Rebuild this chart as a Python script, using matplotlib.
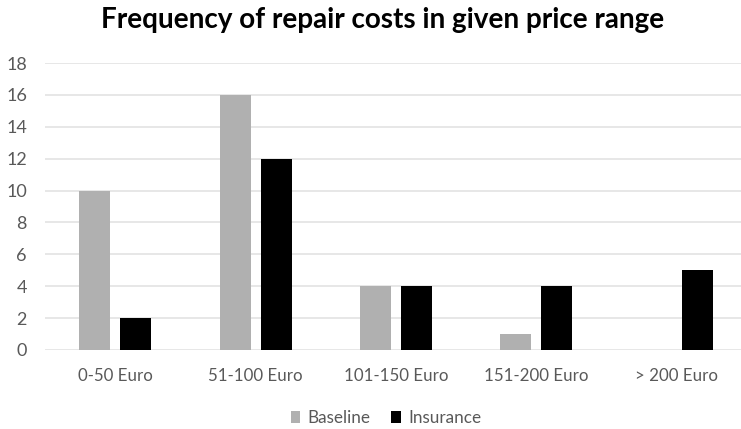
import matplotlib
matplotlib.use("Agg")
import matplotlib.pyplot as plt
import numpy as np

categories = ["0-50 Euro", "51-100 Euro", "101-150 Euro", "151-200 Euro", "> 200 Euro"]
baseline = [10, 16, 4, 1, 0]
insurance = [2, 12, 4, 4, 5]
yticks = [0, 2, 4, 6, 8, 10, 12, 14, 16, 18]

plt.rcParams['font.family'] = ['Lato', 'DejaVu Sans']

W, H = 741, 429
fig = plt.figure(figsize=(W / 100, H / 100), dpi=100)
left = 45 / W
bottom = 1 - 350 / H
top = 1 - 63 / H
ax = fig.add_axes([left, bottom, 1 - left, top - bottom])

x = np.arange(len(categories))
bw = 0.22
off = 0.146
ax.bar(x - off, baseline, bw, color="#b0b0b0", label="Baseline", zorder=3)
ax.bar(x + off, insurance, bw, color="#000000", label="Insurance", zorder=3)

ax.set_ylim(0, 18)
ax.set_xlim(-0.5, 4.5 - 6 / 140.5)
ax.set_yticks(yticks)
ax.set_xticks(x)
ax.set_xticklabels(categories)
ax.grid(axis="y", color="#e3e3e3", linewidth=1.2, zorder=0)
for s in ax.spines.values():
    s.set_visible(False)
ax.tick_params(axis="x", length=0, colors="#595959", labelsize=12.2, pad=13)
ax.tick_params(axis="y", length=0, colors="#595959", labelsize=13, pad=13)

fig.text(382.5 / W, 1 - 20 / H, "Frequency of repair costs in given price range",
         ha="center", va="center", fontsize=20.1, fontweight="bold", color="#000000")

leg = fig.legend(loc="center", bbox_to_anchor=(386 / W, 1 - 418 / H), ncol=2, frameon=False,
                 handlelength=0.55, handleheight=0.65, handletextpad=0.45, columnspacing=1.2,
                 fontsize=12.3)
for t in leg.get_texts():
    t.set_color("#595959")

fig.savefig("out.png", dpi=100)
